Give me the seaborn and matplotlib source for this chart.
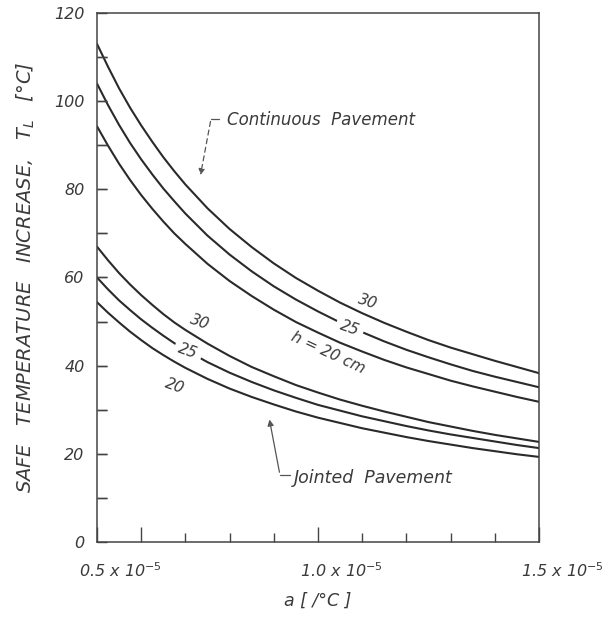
# Safe temperature increase vs thermal coefficient, recreated with seaborn
import numpy as np
import matplotlib.pyplot as plt
import matplotlib.transforms as mtransforms
import pandas as pd
import seaborn as sns

# thermal coefficient a, in units of 10^-5 /°C
alpha = [0.500, 0.525, 0.550, 0.575, 0.600, 0.625, 0.650, 0.675, 0.700, 0.750,
         0.800, 0.850, 0.900, 0.950, 1.000, 1.050, 1.100, 1.150, 1.200, 1.250,
         1.300, 1.350, 1.400, 1.450, 1.500]

# continuous pavement, h = 30, 25, 20 cm
cont_30 = [113.0, 107.8, 102.9, 98.5, 94.5, 90.8, 87.3, 84.1, 81.1, 75.7,
           71.0, 66.9, 63.2, 59.9, 57.0, 54.3, 51.9, 49.7, 47.7, 45.8,
           44.1, 42.6, 41.1, 39.7, 38.3]
cont_25 = [104.0, 99.1, 94.6, 90.5, 86.8, 83.4, 80.2, 77.3, 74.5, 69.5,
           65.2, 61.4, 58.0, 55.0, 52.3, 49.8, 47.6, 45.5, 43.6, 41.9,
           40.3, 38.8, 37.5, 36.3, 35.1]
cont_20 = [94.3, 89.9, 85.8, 82.1, 78.7, 75.6, 72.7, 70.0, 67.6, 63.1,
           59.2, 55.8, 52.7, 49.9, 47.5, 45.2, 43.2, 41.3, 39.6, 38.1,
           36.6, 35.3, 34.1, 32.9, 31.8]

# jointed pavement, h = 30, 25, 20 cm
joint_30 = [67.0, 63.9, 61.0, 58.4, 56.0, 53.8, 51.7, 49.8, 48.1, 45.0,
            42.2, 39.7, 37.6, 35.6, 33.9, 32.3, 30.9, 29.6, 28.4, 27.2,
            26.2, 25.2, 24.3, 23.5, 22.7]
joint_25 = [60.0, 57.3, 54.8, 52.6, 50.5, 48.6, 46.8, 45.1, 43.6, 40.8,
            38.4, 36.3, 34.4, 32.7, 31.1, 29.8, 28.5, 27.4, 26.3, 25.3,
            24.4, 23.6, 22.8, 22.0, 21.3]
joint_20 = [54.4, 52.0, 49.8, 47.7, 45.8, 44.0, 42.4, 40.9, 39.5, 37.0,
            34.8, 32.9, 31.2, 29.6, 28.2, 27.0, 25.8, 24.8, 23.8, 22.9,
            22.1, 21.3, 20.6, 19.9, 19.3]

# long ticks at 0.6 and 1.0 as in the original drawing
x_tick_vals = [0.5, 0.6, 1.0, 1.5]
x_tick_labels = ["0.5 x 10$^{-5}$", "", "1.0 x 10$^{-5}$", "1.5 x 10$^{-5}$"]
x_minor_vals = [0.7, 0.8, 0.9, 1.1, 1.2, 1.3, 1.4]
y_tick_vals = [0, 10, 20, 30, 40, 50, 60, 70, 80, 90, 100, 110, 120]
y_tick_labels = ["0", "", "20", "", "40", "", "60", "", "80", "", "100", "", "120"]

curves = {"C30": cont_30, "C25": cont_25, "C20": cont_20,
          "J30": joint_30, "J25": joint_25, "J20": joint_20}
df = pd.concat([pd.DataFrame({"alpha": alpha, "T": v, "curve": k})
                for k, v in curves.items()], ignore_index=True)

sns.set_theme(style="white")
plt.rcParams['font.family'] = ['DejaVu Sans']
plt.rcParams['mathtext.fontset'] = 'dejavusans'
plt.rcParams['mathtext.default'] = 'it'

ink = "#2a2a2a"
txt = "#3a3a3a"

fig = plt.figure(figsize=(6.08, 6.18), dpi=100)
ax = fig.add_axes([0.1595, 0.123, 0.727, 0.856])

sns.lineplot(data=df, x="alpha", y="T", hue="curve",
             palette={k: ink for k in curves}, legend=False,
             estimator=None, sort=False, linewidth=1.5, ax=ax)

ax.set_xlim(0.5, 1.5)
ax.set_ylim(0, 120)

# axes box
for s in ax.spines.values():
    s.set_visible(True)
    s.set_color("#444444")
    s.set_linewidth(1.1)

# ticks (seaborn white style hides them, turn back on)
ax.set_xticks(x_tick_vals)
ax.set_xticks(x_minor_vals, minor=True)
ax.set_yticks(y_tick_vals)
ax.tick_params(which="both", bottom=True, left=True, top=False, right=False)
ax.tick_params(axis="x", which="major", direction="in", length=11, width=1.0,
               color="#444444", pad=14, labelsize=11.5, labelcolor=txt)
ax.tick_params(axis="x", which="minor", direction="in", length=6.5, width=1.0,
               color="#444444")
ax.tick_params(axis="y", which="major", direction="in", length=7.5, width=1.0,
               color="#444444", pad=9, labelsize=11.5, labelcolor=txt)

# inner tick marks on the y axis drawn as short segments, one per tick value
ytrans = mtransforms.blended_transform_factory(ax.transAxes, ax.transData)
for v in y_tick_vals[1:-1]:
    ax.plot([0, 0.022], [v, v], transform=ytrans, color="#444444", lw=1.0,
            solid_capstyle="butt", clip_on=False)

ax.set_xticklabels(x_tick_labels, fontstyle="italic")
ax.set_yticklabels(y_tick_labels, fontstyle="italic")
shift = mtransforms.ScaledTranslation(-0.18, 0, fig.dpi_scale_trans)
for lbl in ax.get_xticklabels():
    lbl.set_horizontalalignment("left")
    lbl.set_transform(lbl.get_transform() + shift)

ax.set_xlabel("a [ /°C ]", fontsize=12.5, fontstyle="italic", color=txt, labelpad=8)
ax.set_ylabel("SAFE   TEMPERATURE   INCREASE,   $T_L$   [°C]", fontsize=14,
              fontstyle="italic", color=txt, labelpad=12)

# curve labels (white box makes the gap in the 25 cm lines)
lab = dict(fontsize=11, fontstyle="italic", color=txt, ha="center", va="center")
box = dict(boxstyle="square,pad=0.3", fc="white", ec="none")
ax.text(1.113, 54.6, "30", rotation=-18, **lab)
ax.text(1.072, 48.6, "25", rotation=-20, bbox=box, zorder=5, **lab)
ax.text(1.023, 43.0, "h = 20 cm", rotation=-25, **lab)
ax.text(0.733, 49.8, "30", rotation=-20, **lab)
ax.text(0.706, 43.2, "25", rotation=-20, bbox=box, zorder=5, **lab)
ax.text(0.676, 35.4, "20", rotation=-20, **lab)

# pavement type labels with leaders
ax.text(0.795, 95.8, "Continuous  Pavement", fontsize=12, fontstyle="italic",
        color=txt, ha="left", va="center")
ax.plot([0.775, 0.758], [96.0, 96.0], color="#555555", lw=0.9)
ax.annotate("", xy=(0.733, 82.6), xytext=(0.758, 96.0),
            arrowprops=dict(arrowstyle="-|>", color="#555555", lw=0.9,
                            linestyle=(0, (4, 3)), mutation_scale=9))

ax.text(0.945, 14.6, "Jointed  Pavement", fontsize=12.5, fontstyle="italic",
        color=txt, ha="left", va="center")
ax.plot([0.914, 0.936], [15.2, 15.2], color="#555555", lw=0.9)
ax.annotate("", xy=(0.889, 28.4), xytext=(0.914, 15.2),
            arrowprops=dict(arrowstyle="-|>", color="#555555", lw=0.9,
                            mutation_scale=9))

fig.savefig("out.png", dpi=100, facecolor="white")
